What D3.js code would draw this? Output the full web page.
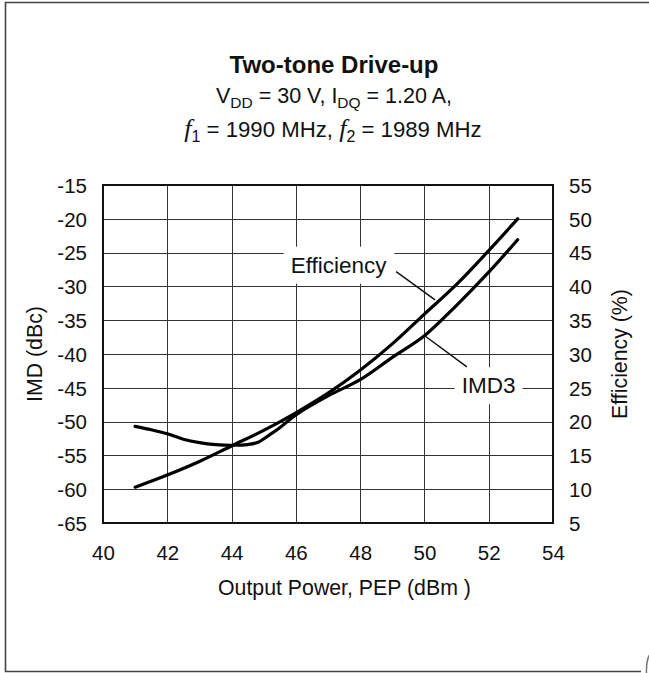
<!DOCTYPE html>
<html><head><meta charset="utf-8">
<script src="https://cdn.jsdelivr.net/npm/d3@7/dist/d3.min.js"></script>
<style>
body{margin:0;background:#fff;}
text{font-family:"Liberation Sans",Arial,Helvetica,sans-serif;fill:#111;}
</style></head>
<body><svg id="c" width="649" height="673"></svg>
<script>
// ---- data ----
const xTicks = [40,42,44,46,48,50,52,54];
const imdTicks = [-65,-60,-55,-50,-45,-40,-35,-30,-25,-20,-15];
const effTicks = [5,10,15,20,25,30,35,40,45,50,55];
const effPower = [41,42,43,44,45,46,47,48,49,50,51,52,52.9];
const effValues = [10.3,12.1,14.1,16.4,18.7,21.3,24.2,27.6,31.5,35.9,40.3,45.3,50.0];
const imdPower = [41,41.5,42,42.5,43,43.5,44,44.5,44.8,45.2,45.5,46,47,48,49,50,51,52,52.9];
const imdValues = [-50.7,-51.2,-51.8,-52.6,-53.1,-53.4,-53.5,-53.4,-53.1,-51.9,-50.9,-49.0,-46.2,-43.8,-40.5,-37.3,-32.8,-27.9,-23.1];

const svg = d3.select("#c");
const L=103, R=553, T=185, B=523;
const x = d3.scaleLinear().domain([40,54]).range([L,R]);
const yL = d3.scaleLinear().domain([-65,-15]).range([B,T]);
const yR = d3.scaleLinear().domain([5,55]).range([B,T]);
const fmt = d => String(d);

// outer frame
svg.append("path").attr("d","M649,2.5 H5.5 V671.5 H641").attr("fill","none").attr("stroke","#444").attr("stroke-width",1.6);
svg.append("path").attr("d","M646.5,673 Q646,661 649.5,655").attr("fill","none").attr("stroke","#777").attr("stroke-width",1.5);

// title
const tx = 334;
svg.append("text").attr("x",tx).attr("y",73).attr("text-anchor","middle")
  .attr("font-weight","bold").attr("font-size",24).text("Two-tone Drive-up");
const s1 = svg.append("text").attr("x",tx).attr("y",103).attr("text-anchor","middle").attr("font-size",21.5);
s1.append("tspan").text("V");
s1.append("tspan").attr("font-size",15.5).attr("dy",5).text("DD");
s1.append("tspan").attr("dy",-5).text(" = 30 V, I");
s1.append("tspan").attr("font-size",15.5).attr("dy",5).text("DQ");
s1.append("tspan").attr("dy",-5).text(" = 1.20 A,");
const s2 = svg.append("text").attr("x",333).attr("y",137).attr("text-anchor","middle").attr("font-size",22.2);
s2.append("tspan").attr("font-family","Liberation Serif, Times New Roman, serif").attr("font-style","italic").attr("font-size",26).text("f");
s2.append("tspan").attr("font-size",16).attr("dy",5).text("1");
s2.append("tspan").attr("dy",-5).text(" = 1990 MHz, ");
s2.append("tspan").attr("font-family","Liberation Serif, Times New Roman, serif").attr("font-style","italic").attr("font-size",26).text("f");
s2.append("tspan").attr("font-size",16).attr("dy",5).text("2");
s2.append("tspan").attr("dy",-5).text(" = 1989 MHz");

// grid
const g = svg.append("g");
g.selectAll(".vg").data(xTicks.slice(1,-1)).join("line")
  .attr("x1",d=>Math.round(x(d))+0.5).attr("x2",d=>Math.round(x(d))+0.5)
  .attr("y1",T).attr("y2",B).attr("stroke","#333").attr("stroke-width",1);
g.selectAll(".hg").data(imdTicks.slice(1,-1)).join("line")
  .attr("y1",d=>Math.round(yL(d))+0.5).attr("y2",d=>Math.round(yL(d))+0.5)
  .attr("x1",L).attr("x2",R).attr("stroke","#333").attr("stroke-width",1);

// axes (labels only)
const tickFs = 20.5;
const ax = svg.append("g").attr("transform",`translate(0,${B})`)
  .call(d3.axisBottom(x).tickValues(xTicks).tickFormat(fmt).tickSize(0).tickPadding(0));
ax.select(".domain").remove();
ax.selectAll("text").attr("y",37).attr("dy",null).attr("font-size",tickFs).attr("font-family",null).attr("fill","#111");
const al = svg.append("g").attr("transform",`translate(${L},0)`)
  .call(d3.axisLeft(yL).tickValues(imdTicks).tickFormat(fmt).tickSize(0).tickPadding(16));
al.select(".domain").remove();
al.selectAll("text").attr("dy","0.36em").attr("font-size",tickFs).attr("font-family",null).attr("fill","#111");
const ar = svg.append("g").attr("transform",`translate(${R},0)`)
  .call(d3.axisRight(yR).tickValues(effTicks).tickFormat(fmt).tickSize(0).tickPadding(16));
ar.select(".domain").remove();
ar.selectAll("text").attr("dy","0.36em").attr("font-size",tickFs).attr("font-family",null).attr("fill","#111");

// axis titles
svg.append("text").attr("x",218).attr("y",595).attr("font-size",21.3).text("Output Power, PEP (dBm )");
svg.append("text").attr("transform",`translate(42,${(T+B)/2}) rotate(-90)`).attr("text-anchor","middle").attr("font-size",21.3).text("IMD (dBc)");
svg.append("text").attr("transform",`translate(627,${(T+B)/2}) rotate(-90)`).attr("text-anchor","middle").attr("font-size",21.3).text("Efficiency (%)");

// annotations (white boxes + leader lines)
function label(txt, px, py, x1,y1,x2,y2){
  const grp = svg.append("g");
  const rect = grp.append("rect").attr("fill","#fff");
  const t = grp.append("text").attr("x",x(px)).attr("y",yL(py)).attr("font-size",22.5).text(txt);
  const bb = t.node().getBBox();
  rect.attr("x",bb.x-7).attr("y",bb.y-6).attr("width",bb.width+14).attr("height",bb.height+12);
  grp.append("line").attr("x1",x(x1)).attr("y1",yL(y1)).attr("x2",x(x2)).attr("y2",yL(y2)).attr("stroke","#111").attr("stroke-width",1.5);
}
label("Efficiency",45.84,-27.97,49.12,-27.8,50.33,-32.0);
label("IMD3",51.16,-45.8,51.32,-41.9,50.02,-37.34);

// plot border
svg.append("rect").attr("x",L).attr("y",T).attr("width",R-L).attr("height",B-T)
  .attr("fill","none").attr("stroke","#111").attr("stroke-width",2);

// curves
const lineEff = d3.line().x(d=>x(d[0])).y(d=>yR(d[1])).curve(d3.curveCatmullRom);
const lineImd = d3.line().x(d=>x(d[0])).y(d=>yL(d[1])).curve(d3.curveCatmullRom);
svg.append("path").attr("d",lineEff(d3.zip(effPower,effValues))).attr("fill","none").attr("stroke","#000").attr("stroke-width",3.2).attr("stroke-linecap","round");
svg.append("path").attr("d",lineImd(d3.zip(imdPower,imdValues))).attr("fill","none").attr("stroke","#000").attr("stroke-width",3.2).attr("stroke-linecap","round");
</script></body></html>
